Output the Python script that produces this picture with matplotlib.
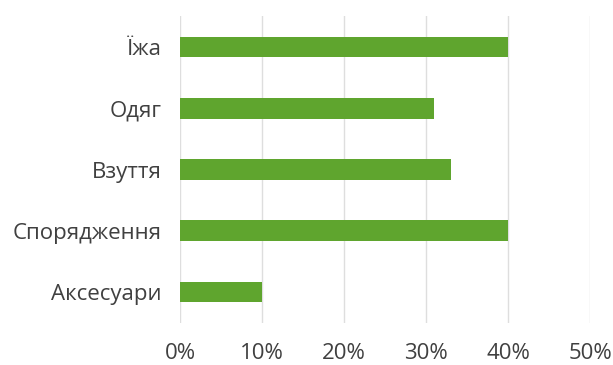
import matplotlib
matplotlib.use("Agg")
import matplotlib.pyplot as plt
from matplotlib.ticker import FuncFormatter

categories = ["Їжа", "Одяг", "Взуття", "Спорядження", "Аксесуари"]
values = [40, 31, 33, 40, 10]
xticks = [0, 10, 20, 30, 40, 50]

plt.rcParams['font.family'] = ['Open Sans', 'DejaVu Sans']

fig = plt.figure(figsize=(6.13, 3.65), dpi=100)
ax = fig.add_axes([0.2936, 0.116, 0.669, 0.839])

y = list(range(len(categories)))
ax.barh(y, values, height=0.34, color="#5fa52e", zorder=3)
ax.set_ylim(len(categories) - 0.5, -0.5)
ax.set_yticks(y)
ax.set_yticklabels(categories)
ax.set_xlim(0, 50)
ax.set_xticks(xticks)
ax.xaxis.set_major_formatter(FuncFormatter(lambda v, p: f"{int(v)}%"))
ax.grid(axis="x", color="#dedede", linewidth=1, zorder=0)
for s in ax.spines.values():
    s.set_visible(False)
ax.tick_params(axis="both", length=0, labelsize=16, colors="#404040")
ax.tick_params(axis="y", pad=13)
ax.tick_params(axis="x", pad=15)

fig.savefig("out.png", dpi=100)
